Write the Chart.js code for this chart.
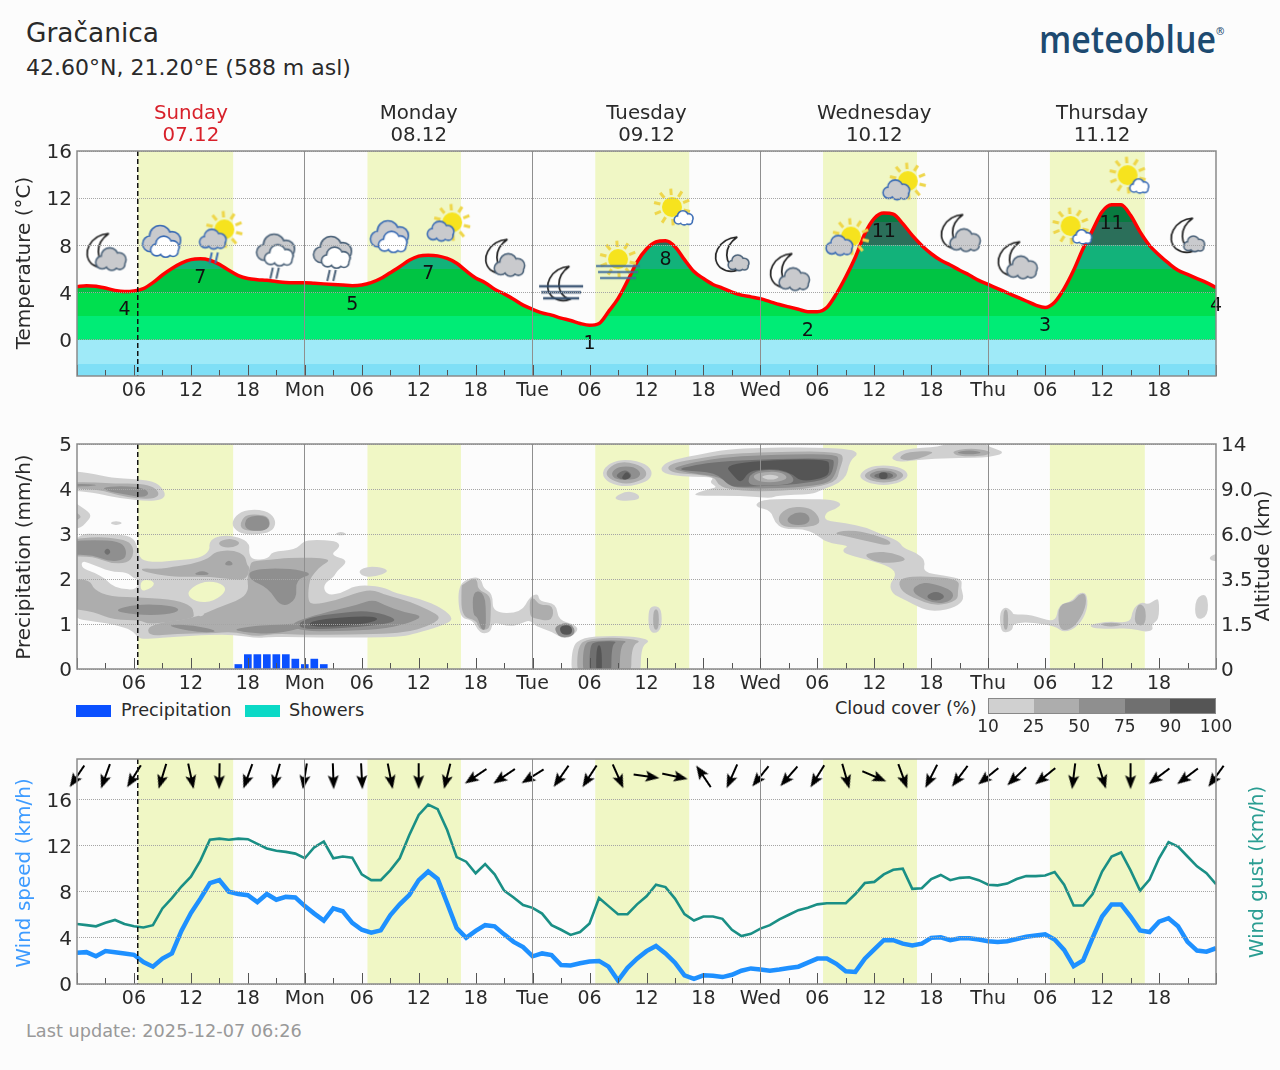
<!DOCTYPE html>
<html>
<head>
<meta charset="utf-8">
<title>Gračanica</title>
<script src="https://cdn.jsdelivr.net/npm/chart.js@4"></script>
<style>
  html, body { margin: 0; padding: 0; background: #fcfcfc; }
  body { width: 1280px; height: 1070px; position: relative; overflow: hidden; font-family: "DejaVu Sans", sans-serif; color: #2a2a2a; }
  canvas { position: absolute; left: 0; }
  .txt { position: absolute; white-space: nowrap; line-height: 1; }
  .box { position: absolute; }
</style>
</head>
<body>
<div class="txt" style="left:26px;top:20px;font-size:26.4px">Gračanica</div>
<div class="txt" style="left:26px;top:57px;font-size:22px">42.60°N, 21.20°E (588 m asl)</div>
<div class="txt" style="left:1039px;top:20px;font-size:37px;font-family:'Open Sans';font-weight:600;color:#1d4a70;transform:scaleX(0.915);transform-origin:left">meteoblue<span style="font-size:11px;vertical-align:18px">®</span></div>

<canvas id="tempChart" width="1280" height="320" style="top:100px"></canvas>
<canvas id="cloudChart" width="1280" height="275" style="top:420px"></canvas>
<canvas id="windChart" width="1280" height="275" style="top:735px"></canvas>

<div class="box" style="left:76px;top:705px;width:35px;height:12px;background:#0a50ff"></div>
<div class="txt" style="left:121px;top:702px;font-size:17.7px">Precipitation</div>
<div class="box" style="left:245px;top:705px;width:35px;height:12px;background:#0bd9c6"></div>
<div class="txt" style="left:289px;top:702px;font-size:17.7px">Showers</div>
<div class="txt" style="left:835px;top:700px;font-size:17.7px">Cloud cover (%)</div>
<div id="cloudScale"></div>
<div class="txt" style="left:26px;top:1023px;font-size:17.7px;color:#999">Last update: 2025-12-07 06:26</div>

<script>
// hourly forecast, index = hours since Sunday 00:00
const hours = Array.from({length: 121}, (_, i) => i)
const axisHours = hours.filter(h => h % 3 === 0)
const dayNames = ['', 'Mon', 'Tue', 'Wed', 'Thu', '']
const dayHeaders = [
  {hour: 12, name: 'Sunday', date: '07.12', color: '#d8202a'},
  {hour: 36, name: 'Monday', date: '08.12', color: '#2a2a2a'},
  {hour: 60, name: 'Tuesday', date: '09.12', color: '#2a2a2a'},
  {hour: 84, name: 'Wednesday', date: '10.12', color: '#2a2a2a'},
  {hour: 108, name: 'Thursday', date: '11.12', color: '#2a2a2a'}
]
const daylightStart = [6.4, 30.6, 54.6, 78.6, 102.5]
const daylightEnd = [16.45, 40.45, 64.5, 88.5, 112.5]
const nowHour = 6.4

const tempTicks = [0, 4, 8, 12, 16]
const tempValues = [
  4.5, 4.6, 4.55, 4.4, 4.2, 4.1, 4.15, 4.35, 4.85, 5.5,
  6.05, 6.5, 6.8, 6.87, 6.75, 6.4, 5.9, 5.45, 5.2, 5.1,
  5.05, 4.95, 4.87, 4.85, 4.85, 4.8, 4.75, 4.7, 4.65, 4.6,
  4.65, 4.85, 5.2, 5.7, 6.2, 6.75, 7.1, 7.18, 7.12, 6.9,
  6.5, 5.85, 5.25, 4.85, 4.3, 3.9, 3.45, 2.95, 2.6, 2.3,
  2.1, 1.85, 1.65, 1.4, 1.25, 1.4, 2.4, 3.5, 5.0, 6.6,
  7.7, 8.3, 8.4, 7.9, 6.8, 5.8, 5.2, 4.7, 4.4, 4.05,
  3.8, 3.65, 3.5, 3.25, 3.0, 2.8, 2.6, 2.4, 2.4, 2.75,
  3.9, 5.35, 7.0, 9.0, 10.3, 10.75, 10.65, 9.85, 8.85, 8.0,
  7.3, 6.75, 6.35, 5.9, 5.5, 5.05, 4.7, 4.35, 4.0, 3.65,
  3.3, 2.95, 2.75, 3.2, 4.35, 5.9, 7.75, 9.3, 10.85, 11.45,
  11.45, 10.55, 9.15, 8.0, 7.2, 6.5, 5.9, 5.55, 5.2, 4.85, 4.45
]
// hours where the daily min / max figures are printed
const extremaHours = [5, 13, 29, 37, 54, 62, 77, 85, 102, 109, 120]
const tempBandEdges = [-4, -2, 0, 2, 4, 6, 8, 10, 20]
const tempBandColors = ['#7fdff6', '#9feaf8', '#00ec76', '#00df4f', '#00c443', '#12b27a', '#2b6f5a', '#087b40']

const iconHours = [3, 9, 15, 21, 27, 33, 39, 45, 51, 57, 63, 69, 75, 81, 87, 93, 99, 105, 111, 117]
const iconLevels = [7.5, 8.3, 8.6, 7.4, 7.2, 8.7, 9.7, 7.0, 4.8, 6.6, 11, 7.2, 5.8, 8.5, 13.2, 9.1, 6.8, 9.4, 13.7, 8.8]
const iconKinds = ['moon', 'cloud', 'sunRain', 'rain', 'rain', 'cloud', 'sun', 'moon', 'moonFog', 'sunFog',
  'sunWhite', 'moonSmall', 'moon', 'sun', 'sun', 'moon', 'moon', 'sunWhite', 'sunWhite', 'moonSmall']

const precipTicks = [0, 1, 2, 3, 4, 5]
const altitudeLabels = ['0', '1.5', '3.5', '6.0', '9.0', '14']
const precipHours = [17, 18, 19, 20, 21, 22, 23, 24, 25, 26]
const precipValues = [0.1, 0.32, 0.32, 0.32, 0.32, 0.32, 0.22, 0.1, 0.22, 0.1]

const cloudScaleLabels = ['10', '25', '50', '75', '90', '100']
const cloudColors = ['#d0d0d0', '#adadad', '#8f8f8f', '#707070', '#555555']

// cloud contours as [hour, level on the 0-5 axis]; the first one is the big low deck with its gaps
const cloudDeck = [
  [[-1,3.01],[3.5,3],[5.8,2.96],[6.4,2.72],[6.6,2.42],[8.4,2.37],[10.5,2.42],[13,2.46],[14,2.64],[13.9,2.79],[14.4,2.92],[15.8,2.98],[17.5,2.9],[18.2,2.76],[18.1,2.61],[18.4,2.42],[20.2,2.45],[20.5,2.61],[23,2.65],[23.9,2.84],[24.9,2.87],[27.3,2.85],[27.8,2.72],[26.6,2.53],[28.7,2.42],[27.3,2.16],[27.1,2.05],[25.9,1.87],[26.3,1.64],[27.8,1.68],[29.4,1.87],[32.2,1.83],[33.6,1.68],[36.1,1.57],[38.5,1.35],[39.8,1.1],[38.2,.94],[35.7,.79],[34.3,.72],[31.5,.7],[27.3,.7],[23.8,.7],[20.3,.72],[19.1,.68],[16.5,.76],[14,.76],[10.5,.72],[7.5,.67],[6.5,.68],[5.8,.87],[4,.98],[2.1,1.05],[-1,1.14]],
  [[0.5,2.4],[1.4,2.35],[3.5,2.16],[5.3,2.15],[6,2.01],[6.5,2],[6.3,1.76],[4.6,1.78],[3.5,1.88],[3,2.01],[1.75,2.15],[0.5,2.24]],
  [[6.7,1.98],[7.9,1.98],[8.2,1.87],[7.5,1.76],[6.7,1.73]],
  [[11.4,1.68],[13,1.94],[14.9,1.94],[15.9,1.76],[14.4,1.5],[12.6,1.48]]
]
const cloud10 = [
  [[-1,4.42],[2.1,4.33],[3.5,4.25],[6.3,4.22],[8.4,4.16],[9.4,3.9],[8.95,3.76],[7.4,3.73],[4.6,3.79],[2.1,3.9],[0.7,3.94],[-1,3.98]],
  [[-1,3.8],[0.7,3.57],[1.6,3.42],[0.9,3.24],[0.35,3.13],[-1,3.09]],
  [[3.4,3.24],[4.1,3.3],[4.9,3.24],[4.1,3.19]],
  [[16.4,3.31],[17.2,3.5],[18.9,3.56],[20.5,3.46],[21,3.24],[20.5,3.05],[18.9,2.98],[17.2,3.01],[16.4,3.16]],
  [[29.6,2.19],[30.8,2.29],[32.4,2.24],[32.8,2.16],[31.5,2.05],[30.1,2.05]],
  [[27.1,3],[27.8,3.06],[28.5,3],[27.8,2.96]],
  [[40.1,1.87],[41.7,2.05],[42.6,2.01],[42.8,1.79],[43.8,1.68],[43.8,1.24],[46.8,1.25],[47.7,1.61],[48.6,1.68],[48.7,1.5],[50.5,1.46],[50.7,1.09],[52.6,.98],[52.8,.83],[51.4,.64],[50.1,.83],[48.4,.94],[47.7,1.09],[46.8,1.01],[45.6,.94],[43.8,1.05],[43.6,.83],[42.8,.78],[42.2,.87],[41.7,1.09],[40.3,1.13]],
  [[52.1,-.3],[52.1,.5],[53.3,.7],[56.1,.74],[58.9,.72],[60.5,.63],[59.4,.5],[59.4,-.3]],
  [[60.2,1.35],[60.9,1.41],[61.6,1.33],[61.6,.9],[60.9,.78],[60.2,.87]],
  [[55.2,4.35],[56.1,4.59],[57.9,4.67],[60,4.56],[60.7,4.35],[60.1,4.16],[57.9,4.04],[56,4.13]],
  [[56.5,3.81],[57.9,3.96],[59.1,3.9],[59.3,3.79],[58.6,3.74],[57.2,3.74]],
  [[61.5,4.48],[62.4,4.63],[64.9,4.74],[68.7,4.89],[71.9,4.91],[76.8,4.93],[81.4,4.89],[82.4,4.79],[81.4,4.63],[81,4.19],[78.2,3.96],[77.5,3.89],[73.7,3.85],[73.1,3.79],[70.1,3.85],[65.2,3.85],[65.1,3.9],[66.6,4],[67.5,4.04],[66.6,4.15],[67.2,4.26],[64.9,4.27],[62.8,4.3],[61.7,4.37]],
  [[85.7,4.7],[87,4.89],[91.2,4.94],[92.2,5.1],[95.1,5.1],[96.1,4.93],[97.9,4.81],[96.1,4.7],[93,4.69],[89.5,4.67],[87.3,4.61],[86.3,4.61]],
  [[82.3,4.3],[83.3,4.48],[85,4.54],[87,4.47],[87.7,4.3],[86.8,4.15],[85,4.07],[83.1,4.15]],
  [[71.5,3.68],[72.6,3.78],[76.8,3.78],[79.6,3.76],[80.6,3.67],[80,3.56],[78.9,3.48],[78.7,3.3],[81,3.24],[83.1,3.15],[84.7,3],[86.6,2.85],[87,2.69],[88.4,2.59],[89.4,2.41],[89.1,2.15],[91.5,2.07],[93.3,2],[93.1,1.81],[93.5,1.56],[92.6,1.37],[90.5,1.28],[89.1,1.33],[87,1.56],[85.9,1.67],[85.6,1.89],[86.3,2.07],[85.9,2.26],[83.1,2.44],[80.8,2.56],[80.7,2.67],[81.4,2.74],[78.9,2.81],[77.9,3],[76.5,3.11],[74.4,3.11],[73.5,3.26],[73.1,3.52],[71.7,3.59]],
  [[97.2,1.28],[97.9,1.39],[98.6,1.26],[98.6,1.21],[100.5,1.21],[103.1,1.02],[103.4,1.43],[104.8,1.5],[105.5,1.69],[106.4,1.7],[106.5,1.32],[105.5,.95],[104,.8],[103.1,.95],[100.5,1.04],[98.6,1.02],[98.6,.87],[97.8,.8],[97.3,.87]],
  [[106.7,.99],[108.7,1.06],[111,1.02],[111.2,1.32],[112.1,1.5],[112.8,1.43],[113.6,1.54],[114,1.56],[114,1.1],[113.2,.99],[113.4,.87],[112.5,.82],[111,.91],[108.7,.89],[106.9,.91]],
  [[117.8,1.58],[119.1,1.69],[119.2,1.17],[117.8,1.08]],
  [[119.3,2.5],[120.5,2.6],[120.5,2.38],[119.4,2.41]]
]
const cloud25 = [
  [[-1,4.15],[2.1,4.15],[3.9,4.12],[6.7,4.12],[8.1,4.05],[8.7,3.9],[8.25,3.79],[6.5,3.78],[4.2,3.87],[2.5,3.98],[-1,4.02]],
  [[-1,3.57],[0.5,3.42],[0.2,3.31],[-1,3.27]],
  [[17.2,3.24],[17.7,3.42],[18.9,3.44],[20.2,3.39],[20.4,3.16],[19.5,3.07],[17.9,3.07],[17.3,3.13]],
  [[-1,2.87],[2.1,2.94],[4.6,2.89],[5.8,2.79],[6,2.53],[5.3,2.35],[3.5,2.35],[1.75,2.5],[-1,2.5]],
  [[14.8,2.81],[15.8,2.9],[16.8,2.87],[17.2,2.79],[16.5,2.7],[15.3,2.7]],
  [[6.7,2.24],[8.8,2.22],[10,2.27],[12.1,2.33],[13.9,2.46],[14.6,2.62],[16.5,2.64],[17.7,2.53],[17.9,2.31],[18.2,2.27],[17.9,1.98],[16.1,2],[14,2.05],[11.9,2.05],[9.8,2.05],[7,2.16]],
  [[-1,2.01],[1.4,1.98],[1.75,1.76],[3.5,1.61],[7,1.59],[10.5,1.53],[12.1,1.39],[12.3,1.24],[12.3,1.13],[9.8,1.05],[7.5,.99],[6.7,1.09],[3.9,1.09],[1.75,1.27],[-1,1.35]],
  [[7.5,.99],[12.3,1.13],[14.7,1.35],[17.5,1.57],[18.1,1.79],[17.9,1.98],[18.2,2.27],[18.4,2.4],[20.3,2.42],[22.4,2.48],[27,2.46],[25.6,2.27],[25,2.13],[24.5,1.98],[24.3,1.57],[24.7,1.42],[27.3,1.52],[29.8,1.72],[31.2,1.76],[32.6,1.64],[35,1.5],[37.1,1.31],[38.5,1.13],[36.8,.94],[35,.83],[32.6,.78],[27.3,.76],[23.8,.76],[21,.79],[18.9,.72],[16.5,.83],[14,.79],[10.5,.79],[7.5,.72]],
  [[40.6,1.87],[41.6,2.01],[42.2,1.98],[42.2,1.76],[43.6,1.64],[43.6,1.24],[43.5,.87],[42.4,.87],[42.1,1.09],[40.5,1.16],[40.5,1.84]],
  [[47.7,1.57],[48.2,1.57],[48.7,1.42],[50.2,1.42],[50.1,1.05],[48,1.13],[47.7,1.2]],
  [[52.7,-.3],[52.7,.53],[54,.68],[56.8,.7],[59.6,.63],[58.4,.53],[58.4,-.3]],
  [[60.7,1.33],[61.3,1.33],[61.3,.87],[60.7,.87]],
  [[55.6,4.35],[56.5,4.56],[57.9,4.61],[59.6,4.5],[60.1,4.33],[59.6,4.2],[57.9,4.1],[56.3,4.19]],
  [[62.1,4.48],[63,4.59],[65.2,4.67],[68.7,4.79],[77.2,4.84],[80.3,4.81],[80.8,4.7],[80.3,4.41],[80,4.15],[76.8,4],[71.9,3.93],[68.4,4],[67.5,4.11],[67.2,4.26],[65.2,4.33],[62.8,4.35]],
  [[86.6,4.7],[87.5,4.83],[90.5,4.85],[89.4,4.72],[88,4.64],[87,4.64]],
  [[92,4.83],[94,4.91],[96.3,4.85],[96,4.74],[93,4.72]],
  [[82.8,4.3],[83.8,4.44],[85,4.48],[86.6,4.41],[87.2,4.3],[86.5,4.19],[85,4.13],[83.5,4.19]],
  [[73.9,3.41],[74.9,3.59],[76.8,3.61],[77.9,3.48],[78.4,3.22],[76.8,3.15],[74.9,3.15],[74,3.22]],
  [[79.6,3.01],[81,3.09],[83.1,3.04],[85.8,2.85],[85.6,2.74],[83.8,2.81],[81.4,2.93]],
  [[82.8,2.52],[84,2.61],[85.9,2.59],[87.5,2.44],[86.6,2.37],[84.5,2.35]],
  [[86.5,2],[88.4,2.07],[93,2.01],[92.8,1.74],[92.8,1.52],[90.5,1.39],[88,1.59],[86.8,1.74]],
  [[97.6,1.32],[98.1,1.32],[98.1,.87],[97.6,.87]],
  [[103.4,1.43],[105,1.5],[105.5,1.65],[106.3,1.69],[106.3,1.36],[105.2,.95],[104,.84],[103.4,.95]],
  [[107.6,.99],[108.9,1.04],[110.4,.99],[108.9,.93]],
  [[111.7,1.47],[112.6,1.39],[112.6,.95],[111.3,.99]]
]
const cloud50 = [
  [[2.5,4.03],[4.6,4.07],[7,4.03],[7.65,3.9],[7,3.81],[5.3,3.87],[3.5,3.94]],
  [[-1,4.12],[2,4.1],[2,4.07],[-1,4.05]],
  [[17.7,3.39],[20.2,3.42],[20.3,3.07],[17.7,3.07]],
  [[-1,2.84],[1.9,2.87],[4.4,2.84],[5.2,2.68],[5.1,2.42],[3.3,2.39],[1.75,2.53],[-1,2.55]],
  [[3.7,1.31],[6.3,1.44],[9.8,1.42],[11,1.31],[9.5,1.2],[6,1.2]],
  [[12.1,2.09],[13.2,2.2],[14.2,2.09]],
  [[15.4,2.3],[16,2.44],[16.6,2.3]],
  [[9.5,.99],[12.3,.98],[15.1,.83],[13,.81],[10.5,.9]],
  [[16.1,.87],[18.9,.96],[21,.98],[23.5,1.02],[23.9,.91],[21,.79],[18.9,.79]],
  [[18.2,2.22],[22.4,2.24],[25,2.12],[23,1.99],[23.2,1.54],[21.5,1.36],[20.2,1.8],[18.1,1.99]],
  [[22.4,.98],[24.2,1.15],[27.3,1.31],[29.4,1.42],[31.2,1.55],[32.4,1.42],[34.3,1.27],[36.6,1.18],[34.7,1],[31.9,.88],[27.3,.84],[23.8,.84]],
  [[41.7,1.76],[43,1.68],[43.1,1.09],[43,.87],[42.6,.87],[42.2,1.16],[41.7,1.2]],
  [[50.3,.94],[51.4,1.03],[52.2,.98],[52.5,.83],[52.1,.72],[51,.7],[50.5,.79]],
  [[53.3,-.3],[53.3,.56],[54.4,.64],[58.2,.64],[57.2,.53],[57.2,-.3]],
  [[56.2,4.35],[57,4.5],[58.7,4.5],[59.5,4.35],[58.9,4.21],[56.8,4.2]],
  [[62.8,4.47],[64.9,4.59],[68.7,4.72],[73.7,4.76],[80,4.78],[80.3,4.63],[79.8,4.26],[78.9,4.11],[75.8,4.04],[71.9,4],[68.7,4.04],[68,4.26],[64.9,4.35],[63.3,4.41]],
  [[92.4,4.81],[94,4.87],[95.6,4.81],[94,4.76]],
  [[83.3,4.3],[84.2,4.41],[85.8,4.41],[86.6,4.3],[85.8,4.2],[84.2,4.2]],
  [[74.7,3.33],[75.6,3.48],[76.8,3.48],[77.3,3.33],[76.8,3.2],[75.2,3.2]],
  [[88,1.78],[88.7,1.89],[89.8,1.93],[92.4,1.74],[92.2,1.52],[90.5,1.44],[88.4,1.63]]
]
const cloud75 = [
  [[2.8,2.6],[3.2,2.7],[3.6,2.6],[3.2,2.52]],
  [[23.1,.98],[24.5,1.15],[27.3,1.24],[30.8,1.31],[34,1.1],[32.2,.98],[27.3,.9],[24.2,.88]],
  [[54,-.3],[54,.53],[54.7,.61],[57,.62],[56.3,.53],[56.3,-.3]],
  [[56.7,4.31],[57.7,4.44],[58.5,4.33],[58.2,4.21],[57.2,4.21]],
  [[63.5,4.47],[68,4.63],[79.6,4.7],[79.8,4.56],[79.3,4.22],[76.1,4.11],[72.9,4.07],[69.8,4.04],[68.7,4.07],[67.3,4.37],[63.8,4.41]],
  [[83.8,4.3],[84.7,4.37],[85.6,4.37],[86.1,4.3],[85.6,4.22],[84.5,4.22]],
  [[89.4,1.63],[90.5,1.74],[91.5,1.63],[91,1.52],[90,1.52]]
]
const cloud90 = [
  [[24.2,.98],[25.2,1.1],[30.8,1.19],[32,1.1],[29.8,.98],[25.6,.93]],
  [[50.8,.96],[52.1,.98],[52.2,.76],[51,.76]],
  [[54.7,-.3],[54.7,.53],[55.3,.53],[55.3,-.3]],
  [[57.4,4.27],[57.9,4.4],[58.4,4.29],[58,4.21],[57.5,4.21]],
  [[68,4.59],[79.1,4.69],[79.3,4.48],[79.1,4.26],[76.3,4.16],[75.4,4.33],[74,4.44],[71.9,4.44],[70.7,4.37],[70,4.13],[69.3,4.26]],
  [[84.5,4.37],[85.4,4.37],[85.4,4.22],[84.5,4.22]]
]
// thinner spots sitting inside the thick deck, drawn last
const cloudGapMid = [[[70.6,4.11],[71,4.37],[73,4.44],[74.9,4.37],[75.6,4.22],[75.2,4.1],[71.9,4.07]]]
const cloudGapThin = [[[71.1,4.28],[71.9,4.37],[74,4.39],[75,4.26],[74,4.15],[71.9,4.15]]]
const cloudGapClear = [
  [[71.9,4.27],[73,4.33],[74.2,4.27],[73.1,4.19]],
  [[12.6,1.22],[13,1.29],[13.5,1.22],[13,1.16]]
]

const windTicks = [0, 4, 8, 12, 16]
const windSpeed = [
  2.7, 2.76, 2.4, 2.85, 2.76, 2.65, 2.53, 1.9, 1.5, 2.2,
  2.65, 4.6, 6.15, 7.4, 8.75, 9.0, 8.0, 7.8, 7.7, 7.1,
  7.8, 7.3, 7.55, 7.5, 6.75, 6.1, 5.5, 6.55, 6.3, 5.3,
  4.7, 4.45, 4.65, 5.95, 6.9, 7.7, 9.0, 9.75, 9.1, 7.0,
  4.85, 4.0, 4.6, 5.1, 5.0, 4.3, 3.65, 3.2, 2.4, 2.65,
  2.5, 1.65, 1.6, 1.8, 1.95, 2.0, 1.5, 0.3, 1.4, 2.2,
  2.85, 3.3, 2.65, 1.85, 0.75, 0.45, 0.75, 0.72, 0.6, 0.8,
  1.15, 1.35, 1.25, 1.15, 1.25, 1.38, 1.5, 1.85, 2.2, 2.2,
  1.75, 1.1, 1.05, 2.2, 3.0, 3.8, 3.8, 3.5, 3.35, 3.5,
  4.0, 4.05, 3.8, 3.97, 3.97, 3.85, 3.7, 3.65, 3.7, 3.9,
  4.1, 4.2, 4.3, 3.85, 2.95, 1.55, 2.05, 4.0, 5.85, 6.9,
  6.9, 5.85, 4.65, 4.5, 5.4, 5.7, 5.0, 3.65, 2.9, 2.8, 3.1
]
const windGust = [
  5.2, 5.1, 5.0, 5.3, 5.55, 5.2, 5.0, 4.9, 5.1, 6.55,
  7.45, 8.45, 9.3, 10.7, 12.5, 12.6, 12.5, 12.6, 12.55, 12.15,
  11.75, 11.55, 11.45, 11.3, 10.9, 11.85, 12.35, 10.9, 11.05, 10.95,
  9.5, 9.0, 9.0, 9.85, 10.9, 12.9, 14.65, 15.55, 15.15, 13.35,
  11.0, 10.6, 9.6, 10.4, 9.5, 8.1, 7.5, 6.85, 6.6, 6.1,
  5.1, 4.7, 4.25, 4.5, 5.25, 7.45, 6.75, 6.05, 6.05, 6.9,
  7.6, 8.6, 8.4, 7.4, 6.05, 5.5, 5.85, 5.85, 5.65, 4.7,
  4.15, 4.35, 4.8, 5.1, 5.6, 6.0, 6.4, 6.6, 6.9, 7.0,
  7.0, 7.0, 7.8, 8.75, 8.85, 9.5, 9.9, 10.0, 8.25, 8.3,
  9.1, 9.45, 9.0, 9.2, 9.25, 9.0, 8.6, 8.55, 8.7, 9.1,
  9.35, 9.35, 9.4, 9.7, 8.6, 6.8, 6.8, 7.8, 9.75, 11.05,
  11.4, 9.85, 8.1, 9.05, 10.9, 12.3, 11.9, 11.05, 10.2, 9.6, 8.65
]
// one arrow every 3 h, heading in degrees clockwise from north
const arrowHours = axisHours
const arrowHeadings = [214, 200, 212, 197, 168, 181, 200, 196, 189, 178, 177, 169, 180, 194, 236, 236, 238, 215, 213, 156,
  98, 102, 326, 204, 219, 221, 212, 164, 113, 160, 207, 217, 231, 226, 231, 187, 163, 180, 233, 233, 216]
const arrowLevel = 18

const FONT = '"DejaVu Sans", sans-serif'
const TEXT = '#2a2a2a'
const FRAME = '#8a8a8a'

// legend strip for the cloud shades
const scaleBox = document.getElementById('cloudScale')
cloudColors.forEach((col, i) => {
  const d = document.createElement('div')
  d.className = 'box'
  d.style.cssText = `left:${988 + i * 45.6}px;top:699px;width:45.6px;height:15px;background:${col}`
  scaleBox.appendChild(d)
})
const frameBox = document.createElement('div')
frameBox.className = 'box'
frameBox.style.cssText = 'left:988px;top:698px;width:228px;height:16px;border:1px solid #888;box-sizing:border-box'
scaleBox.appendChild(frameBox)
cloudScaleLabels.forEach((t, i) => {
  const d = document.createElement('div')
  d.className = 'txt'
  d.style.cssText = `left:${988 + i * 45.6}px;top:718px;font-size:17px;transform:translateX(-50%)`
  d.textContent = t
  scaleBox.appendChild(d)
})

// --- weather symbols, painted once on small canvases and used as point styles ---
function puff(c, x, y, s, fill, line) {
  const parts = [[-0.62, 0.2, 0.38], [-0.12, -0.2, 0.52], [0.5, 0.02, 0.42], [0.02, 0.32, 0.36], [0.55, 0.32, 0.3]]
  const path = () => {
    c.beginPath()
    parts.forEach(p => { c.moveTo(x + p[0] * s + p[2] * s, y + p[1] * s); c.arc(x + p[0] * s, y + p[1] * s, p[2] * s, 0, Math.PI * 2) })
  }
  c.strokeStyle = line
  c.lineWidth = 3.2
  path(); c.stroke()
  c.fillStyle = fill
  path(); c.fill()
}
function sun(c, x, y, r) {
  c.strokeStyle = '#eed64a'
  c.lineWidth = 3
  for (let a = 0; a < 10; a++) {
    const t = a * Math.PI / 5 + 0.25
    c.beginPath()
    c.moveTo(x + Math.cos(t) * r * 1.2, y + Math.sin(t) * r * 1.2)
    c.lineTo(x + Math.cos(t) * r * 1.85, y + Math.sin(t) * r * 1.85)
    c.stroke()
  }
  c.fillStyle = '#f6e31e'
  c.beginPath(); c.arc(x, y, r, 0, Math.PI * 2); c.fill()
}
function moon(c, x, y, s) {
  c.beginPath()
  c.moveTo(x + 0.55 * s, y - s)
  c.bezierCurveTo(x - 0.55 * s, y - 0.9 * s, x - 1.1 * s, y + 0.2 * s, x - 0.45 * s, y + 0.8 * s)
  c.bezierCurveTo(x - 0.1 * s, y + 1.05 * s, x + 0.3 * s, y + 1.05 * s, x + 0.55 * s, y + 0.95 * s)
  c.bezierCurveTo(x - 0.25 * s, y + 0.6 * s, x - 0.3 * s, y - 0.4 * s, x + 0.55 * s, y - s)
  c.fillStyle = '#fff'
  c.fill()
  c.strokeStyle = '#222'
  c.lineWidth = 1.7
  c.stroke()
}
function rainMarks(c, x, y, col) {
  c.strokeStyle = col
  c.lineWidth = 2
  ;[0, 6].forEach(dx => {
    c.beginPath(); c.moveTo(x + dx + 1.5, y); c.lineTo(x + dx - 1, y + 11); c.stroke()
  })
}
function fogBars(c, x, y, col) {
  c.strokeStyle = col
  c.lineWidth = 2.6
  ;[[-22, 22, 0], [-20, 20, 6], [-18, 18, 12]].forEach(b => {
    c.beginPath(); c.moveTo(x + b[0], y + b[2]); c.lineTo(x + b[1], y + b[2]); c.stroke()
  })
}
function makeIcon(kind) {
  const cv = document.createElement('canvas')
  cv.width = 72
  cv.height = 72
  const c = cv.getContext('2d')
  c.translate(36, 36)
  const grey = '#c9cacd', blue = '#3c6db5', slate = '#4b6279'
  if (kind === 'moon') {
    moon(c, -6, -1, 17)
    puff(c, 6, 8, 15, grey, slate)
  } else if (kind === 'moonSmall') {
    moon(c, -4, -1, 17)
    puff(c, 7, 8, 10, grey, slate)
  } else if (kind === 'cloud') {
    puff(c, 0, -2, 19, grey, blue)
    puff(c, 3, 5, 14, '#fff', blue)
  } else if (kind === 'rain') {
    puff(c, 0, -4, 19, grey, slate)
    puff(c, 3, 3, 14, '#fff', slate)
    rainMarks(c, -5, 15, slate)
  } else if (kind === 'sun') {
    sun(c, 5, -3, 10)
    puff(c, -6, 6, 13, grey, blue)
  } else if (kind === 'sunRain') {
    sun(c, 5, -9, 10)
    puff(c, -6, 1, 13, grey, blue)
    rainMarks(c, -9, 14, blue)
  } else if (kind === 'sunWhite') {
    sun(c, -3, -3, 10)
    puff(c, 9, 8, 9, '#fff', blue)
  } else if (kind === 'moonFog') {
    moon(c, -1, 0, 17)
    c.globalAlpha = 0.9
    fogBars(c, 0, 3, '#2f4a6b')
  } else if (kind === 'sunFog') {
    sun(c, 0, -3, 10)
    c.globalAlpha = 0.8
    fogBars(c, 0, 4, '#3f6a9d')
  }
  return cv
}
function makeArrow() {
  const cv = document.createElement('canvas')
  cv.width = 14
  cv.height = 28
  const c = cv.getContext('2d')
  c.fillStyle = '#000'
  c.strokeStyle = '#000'
  c.lineWidth = 2
  c.beginPath(); c.moveTo(7, 8); c.lineTo(7, 27); c.stroke()
  c.beginPath(); c.moveTo(7, 1); c.lineTo(12.5, 15); c.lineTo(7, 12); c.lineTo(1.5, 15); c.closePath(); c.fill()
  return cv
}
const iconSprites = {}
iconKinds.forEach(k => { if (!iconSprites[k]) iconSprites[k] = makeIcon(k) })
const arrowSprite = makeArrow()

// --- shared pieces of the three panels ---
function pairs(xs, ys) {
  return xs.map((x, i) => ({x: x, y: ys[i]}))
}

function xAxis(height) {
  return {
    type: 'linear',
    min: 0,
    max: 120,
    offset: false,
    afterBuildTicks: s => { s.ticks = axisHours.map(v => ({value: v})) },
    afterFit: s => { s.height = height },
    ticks: {
      autoSkip: false,
      maxRotation: 0,
      padding: 4,
      color: TEXT,
      font: {family: FONT, size: 19},
      callback: v => {
        if (v % 24 === 0) return dayNames[v / 24]
        if (v % 6 === 0) return String(v % 24).padStart(2, '0')
        return ''
      }
    },
    grid: {
      z: 1,
      offset: false,
      drawTicks: false,
      lineWidth: 1,
      color: c => (c.tick && c.tick.value % 24 === 0 && c.tick.value > 0 && c.tick.value < 120) ? '#8f8f8f' : 'rgba(0,0,0,0)'
    },
    border: {display: false}
  }
}

// value labels sit 2px lower than the canvas "middle" baseline puts them
function lowerLabels(s) {
  if (s.labelsLowered) return
  s.labelsLowered = true
  const draw = s.drawLabels
  s.drawLabels = function (area) {
    s.ctx.save()
    s.ctx.translate(0, 2)
    draw.call(s, area)
    s.ctx.restore()
  }
}

function yAxis(min, max, tickValues, width) {
  return {
    min: min,
    max: max,
    position: 'left',
    afterBuildTicks: s => { s.ticks = tickValues.map(v => ({value: v})) },
    afterFit: s => { s.width = width; lowerLabels(s) },
    ticks: {autoSkip: false, padding: 5, color: TEXT, font: {family: FONT, size: 20}},
    grid: {z: 1, drawTicks: false, color: '#a5a5a5', lineWidth: 1},
    border: {display: false, dash: [1, 1]}
  }
}

function sideText(c, text, x, y, col) {
  c.save()
  c.translate(x, y)
  c.rotate(-Math.PI / 2)
  c.textAlign = 'center'
  c.textBaseline = 'middle'
  c.fillStyle = col
  c.font = '20px ' + FONT
  c.fillText(text, 0, 0)
  c.restore()
}

// daylight bands under the data, frame, tick marks, "now" line and side titles over it
function panelPlugin(titles) {
  return {
    id: 'panel',
    beforeDatasetsDraw(chart) {
      const {ctx: c, chartArea: a, scales: {x}} = chart
      c.save()
      c.fillStyle = '#f0f7c5'
      daylightStart.forEach((from, i) => {
        const l = x.getPixelForValue(from), r = x.getPixelForValue(daylightEnd[i])
        c.fillRect(l, a.top, r - l, a.bottom - a.top)
      })
      c.restore()
    },
    afterDraw(chart) {
      const {ctx: c, chartArea: a, scales: {x}} = chart
      c.save()
      c.strokeStyle = '#555'
      c.lineWidth = 1
      axisHours.forEach(h => {
        const px = Math.round(x.getPixelForValue(h)) + 0.5
        c.beginPath()
        c.moveTo(px, a.bottom)
        c.lineTo(px, a.bottom - (h % 6 === 0 ? 11 : 6))
        c.stroke()
      })
      const nowX = x.getPixelForValue(nowHour)
      c.strokeStyle = '#111'
      c.lineWidth = 1.5
      c.setLineDash([5, 3])
      c.beginPath(); c.moveTo(nowX, a.top); c.lineTo(nowX, a.bottom); c.stroke()
      c.setLineDash([])
      c.strokeStyle = FRAME
      c.lineWidth = 1.5
      c.strokeRect(a.left, a.top, a.right - a.left, a.bottom - a.top)
      c.restore()
      titles.forEach(t => sideText(c, t.text, t.x, t.y, t.color))
    }
  }
}

// --- temperature ---
const tempLabels = {
  id: 'tempLabels',
  afterDatasetsDraw(chart) {
    const {ctx: c, scales: {x, y}} = chart
    c.save()
    c.fillStyle = '#111'
    c.font = '19px ' + FONT
    c.textAlign = 'center'
    c.textBaseline = 'middle'
    extremaHours.forEach(h => {
      c.fillText(String(Math.round(tempValues[h])), x.getPixelForValue(h), y.getPixelForValue(tempValues[h]) + 19)
    })
    dayHeaders.forEach(d => {
      c.fillStyle = d.color
      c.font = '19.8px ' + FONT
      c.fillText(d.name, x.getPixelForValue(d.hour), 14)
      c.fillText(d.date, x.getPixelForValue(d.hour), 36)
    })
    c.restore()
  }
}

function tempFill(ctx) {
  const {chart} = ctx
  const y = chart.scales.y
  if (!chart.chartArea || !y) return 'rgba(0,0,0,0)'
  const top = y.getPixelForValue(tempBandEdges[tempBandEdges.length - 1])
  const bot = y.getPixelForValue(tempBandEdges[0])
  const g = chart.ctx.createLinearGradient(0, bot, 0, top)
  tempBandColors.forEach((col, i) => {
    const from = (bot - y.getPixelForValue(tempBandEdges[i])) / (bot - top)
    const to = (bot - y.getPixelForValue(tempBandEdges[i + 1])) / (bot - top)
    g.addColorStop(from, col)
    g.addColorStop(to, col)
  })
  return g
}

new Chart(document.getElementById('tempChart'), {
  type: 'scatter',
  data: {
    datasets: [
      {
        label: 'Weather',
        data: pairs(iconHours, iconLevels),
        showLine: false,
        pointStyle: iconKinds.map(k => iconSprites[k]),
        pointRadius: 10,
        clip: false,
        order: 0
      },
      {
        label: 'Temperature',
        data: pairs(hours, tempValues),
        showLine: true,
        cubicInterpolationMode: 'monotone',
        borderColor: '#ff0000',
        borderWidth: 3.5,
        pointRadius: 0,
        fill: 'start',
        backgroundColor: tempFill,
        order: 1
      }
    ]
  },
  options: {
    responsive: false,
    animation: false,
    devicePixelRatio: 1,
    layout: {padding: {top: 51, right: 64, bottom: 0, left: 0}},
    plugins: {legend: {display: false}, tooltip: {enabled: false}},
    scales: {x: xAxis(44), y: yAxis(-3.05, 16, tempTicks, 77)}
  },
  plugins: [panelPlugin([{text: 'Temperature (°C)', x: 25, y: 163, color: TEXT}]), tempLabels]
})

// --- clouds and precipitation ---
function ringPoints(rings) {
  const pts = []
  rings.forEach(r => {
    r.forEach(p => pts.push({x: p[0], y: p[1]}))
    pts.push({x: null, y: null})
  })
  return pts
}
function cloudSet(rings, color, order, together) {
  return {
    label: 'Cloud cover',
    data: ringPoints(rings),
    showLine: false,
    pointRadius: 0,
    backgroundColor: color,
    cloudFill: color,
    cloudTogether: !!together,
    order: order
  }
}

// rounded outline through the midpoints of a contour
function traceRing(c, ring) {
  const n = ring.length
  const mid = (a, b) => ({x: (a.x + b.x) / 2, y: (a.y + b.y) / 2})
  const start = mid(ring[n - 1], ring[0])
  c.moveTo(start.x, start.y)
  ring.forEach((p, i) => {
    const m = mid(p, ring[(i + 1) % n])
    c.quadraticCurveTo(p.x, p.y, m.x, m.y)
  })
  c.closePath()
}

// contours are filled from the point elements the controller has already placed
const cloudPaint = {
  id: 'cloudPaint',
  beforeDatasetDraw(chart, args) {
    const ds = chart.data.datasets[args.index]
    if (!ds.cloudFill) return
    const {ctx: c, chartArea: a} = chart
    c.save()
    c.beginPath()
    c.rect(a.left, a.top, a.right - a.left, a.bottom - a.top)
    c.clip()
    c.fillStyle = ds.cloudFill
    c.beginPath()
    let ring = []
    args.meta.data.forEach(pt => {
      if (pt.skip) {
        traceRing(c, ring)
        ring = []
        if (!ds.cloudTogether) { c.fill(); c.beginPath() }
      } else {
        ring.push({x: pt.x, y: pt.y})
      }
    })
    if (ds.cloudTogether) c.fill('evenodd')
    c.restore()
  }
}

const cloudAxisRight = {
  min: 0,
  max: 5,
  position: 'right',
  afterBuildTicks: s => { s.ticks = precipTicks.map(v => ({value: v})) },
  afterFit: s => { s.width = 64; lowerLabels(s) },
  ticks: {
    autoSkip: false,
    padding: 5,
    color: TEXT,
    font: {family: FONT, size: 20},
    callback: v => altitudeLabels[v]
  },
  grid: {display: false, drawTicks: false},
  border: {display: false}
}

new Chart(document.getElementById('cloudChart'), {
  type: 'scatter',
  data: {
    datasets: [
      {
        type: 'bar',
        label: 'Precipitation',
        data: pairs(precipHours, precipValues),
        backgroundColor: '#0a50ff',
        barThickness: 7,
        order: 0
      },
      cloudSet(cloudDeck, cloudColors[0], 11, true),
      cloudSet(cloud10, cloudColors[0], 10),
      cloudSet(cloud25, cloudColors[1], 9),
      cloudSet(cloud50, cloudColors[2], 8),
      cloudSet(cloud75, cloudColors[3], 7),
      cloudSet(cloud90, cloudColors[4], 6),
      cloudSet(cloudGapMid, cloudColors[2], 5),
      cloudSet(cloudGapThin, cloudColors[1], 4),
      cloudSet(cloudGapClear, cloudColors[0], 3)
    ]
  },
  options: {
    responsive: false,
    animation: false,
    devicePixelRatio: 1,
    layout: {padding: {top: 24, right: 0, bottom: 0, left: 0}},
    plugins: {legend: {display: false}, tooltip: {enabled: false}},
    scales: {x: xAxis(26), y: yAxis(0, 5, precipTicks, 77), altitude: cloudAxisRight}
  },
  plugins: [cloudPaint, panelPlugin([
    {text: 'Precipitation (mm/h)', x: 25, y: 137, color: TEXT},
    {text: 'Altitude (km)', x: 1264, y: 136, color: TEXT}
  ])]
})

// --- wind ---
new Chart(document.getElementById('windChart'), {
  type: 'scatter',
  data: {
    datasets: [
      {
        label: 'Wind direction',
        data: arrowHours.map(h => ({x: h, y: arrowLevel})),
        showLine: false,
        pointStyle: arrowSprite,
        pointRadius: 10,
        pointRotation: arrowHeadings,
        clip: false,
        order: 0
      },
      {
        label: 'Wind speed',
        data: pairs(hours, windSpeed),
        showLine: true,
        borderColor: '#1e90ff',
        borderWidth: 4.5,
        pointRadius: 0,
        order: 1
      },
      {
        label: 'Wind gust',
        data: pairs(hours, windGust),
        showLine: true,
        borderColor: '#1a8f85',
        borderWidth: 2.6,
        pointRadius: 0,
        order: 2
      }
    ]
  },
  options: {
    responsive: false,
    animation: false,
    devicePixelRatio: 1,
    layout: {padding: {top: 24, right: 64, bottom: 0, left: 0}},
    plugins: {legend: {display: false}, tooltip: {enabled: false}},
    scales: {x: xAxis(26), y: yAxis(0, 19.5, windTicks, 77)}
  },
  plugins: [panelPlugin([
    {text: 'Wind speed (km/h)', x: 25, y: 138, color: '#3d9bff'},
    {text: 'Wind gust (km/h)', x: 1258, y: 137, color: '#2a9d92'}
  ])]
})
</script>
</body>
</html>
